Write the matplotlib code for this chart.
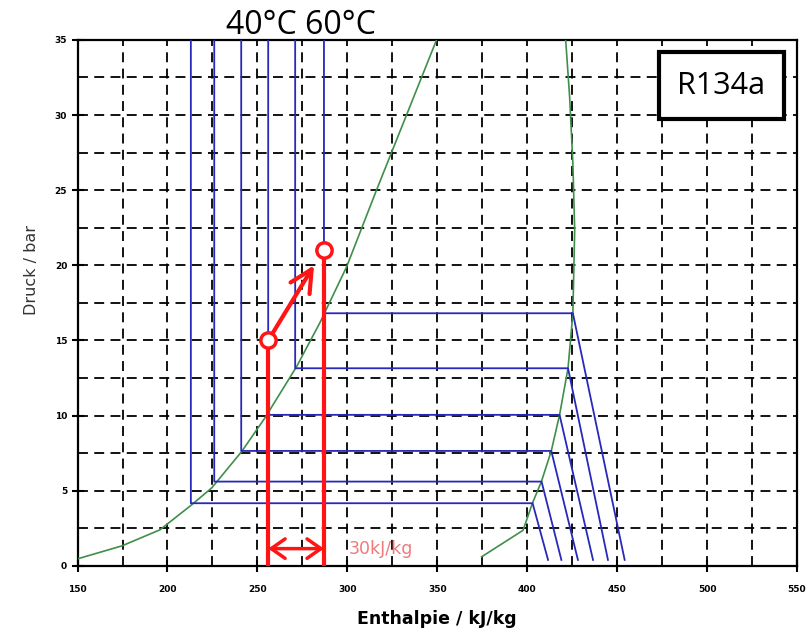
import matplotlib.pyplot as plt

# isotherms (blue): liquid enthalpy, saturation pressure, vapour enthalpy, end of superheated branch
h_liq = [213, 226, 241, 256, 271, 287]
p_sat = [4.17, 5.61, 7.65, 10.05, 13.15, 16.81]
h_vap = [403, 408, 413.4, 418, 422.7, 425.4]
h_end = [411.6, 419, 428.2, 436.6, 444.9, 454.2]
p_end = 0.4
p_top = 35

# saturated liquid line (green, left)
liq_h = [150, 174.6, 195.8, 213.4, 224.6, 241.2, 254.2, 271.8, 284.7, 299.6, 316.2, 332.9, 349.6]
liq_p = [0.47, 1.33, 2.4, 4.06, 5.19, 7.6, 9.85, 13.26, 16.17, 19.9, 25.0, 30.0, 35.0]

# saturated vapour line (green, right)
vap_h = [374.6, 397.7, 402.9, 407.9, 413.4, 418, 422.7, 425.4, 426.4, 425.4, 423.6, 421.4]
vap_p = [0.6, 2.37, 4.17, 5.61, 7.65, 10.05, 13.15, 16.81, 22.35, 26.8, 31.2, 35.0]

# compression points (red)
pt_h = [256, 287]
pt_p = [15.0, 21.0]
arrow_tip = (281.5, 20.0)
dh_y = 1.15

fig = plt.figure(figsize=(8.12, 6.33), dpi=100)
ax = fig.add_axes([0.0955, 0.106, 0.886, 0.831])

ax.set_xlim(150, 550)
ax.set_ylim(0, 35)
ax.set_xticks(range(150, 551, 50))
ax.set_yticks(range(0, 36, 5))
ax.set_xticks(range(175, 550, 50), minor=True)
ax.set_yticks([2.5 + 5 * i for i in range(7)], minor=True)
ax.grid(True, which='both', color='black', linestyle=(0, (5.5, 3.5)), linewidth=1.3)
ax.tick_params(which='major', direction='inout', length=8, width=1.5)
ax.tick_params(which='minor', length=0)
ax.tick_params(axis='x', pad=10)
for lbl in ax.get_xticklabels() + ax.get_yticklabels():
    lbl.set_fontsize(6.5)
    lbl.set_fontweight('bold')
for s in ax.spines.values():
    s.set_linewidth(1.6)

ax.plot(liq_h, liq_p, color='#3f8f4a', lw=1.2, zorder=3)
ax.plot(vap_h, vap_p, color='#3f8f4a', lw=1.2, zorder=3)

for hl, ps, hv, he in zip(h_liq, p_sat, h_vap, h_end):
    ax.plot([hl, hl, hv, he], [p_top, ps, ps, p_end], color='#2828bb', lw=1.3, zorder=4)

# red process lines
ax.plot([pt_h[0], pt_h[0]], [0, pt_p[0]], color='#ff1515', lw=3, zorder=5)
ax.plot([pt_h[1], pt_h[1]], [0, pt_p[1]], color='#ff1515', lw=3, zorder=5)
ax.annotate('', xy=arrow_tip, xytext=(pt_h[0], pt_p[0]),
            arrowprops=dict(arrowstyle='->,head_length=1.6,head_width=0.8',
                            color='#ff1515', lw=3, shrinkA=0, shrinkB=0), zorder=6)
ax.plot(pt_h, pt_p, 'o', ms=11, mfc='white', mec='#ff1515', mew=2.5, zorder=7)
ax.annotate('', xy=(pt_h[1], dh_y), xytext=(pt_h[0], dh_y),
            arrowprops=dict(arrowstyle='<->,head_length=1.0,head_width=0.7',
                            color='#ff1515', lw=2.5, shrinkA=0, shrinkB=0), zorder=6)
ax.text(301, dh_y, '30kJ/kg', color='#f07a7a', fontsize=12.5, va='center', ha='left', zorder=6)

ax.set_xlabel('Enthalpie / kJ/kg', fontsize=12.5, fontweight='bold', labelpad=11)
ax.set_ylabel('Druck / bar', fontsize=11.5, color='#333333')
ax.yaxis.set_label_coords(-0.053, 0.563)

fig.text(0.371, 0.960, '40°C 60°C', fontsize=23, family='Open Sans', ha='center', va='center')

ax.text(0.895, 0.913, 'R134a', transform=ax.transAxes, fontsize=22, family='Open Sans',
        ha='center', va='center', zorder=8,
        bbox=dict(boxstyle='square,pad=0.6', facecolor='white', edgecolor='black', linewidth=3))

fig.savefig('out.png', dpi=100)
